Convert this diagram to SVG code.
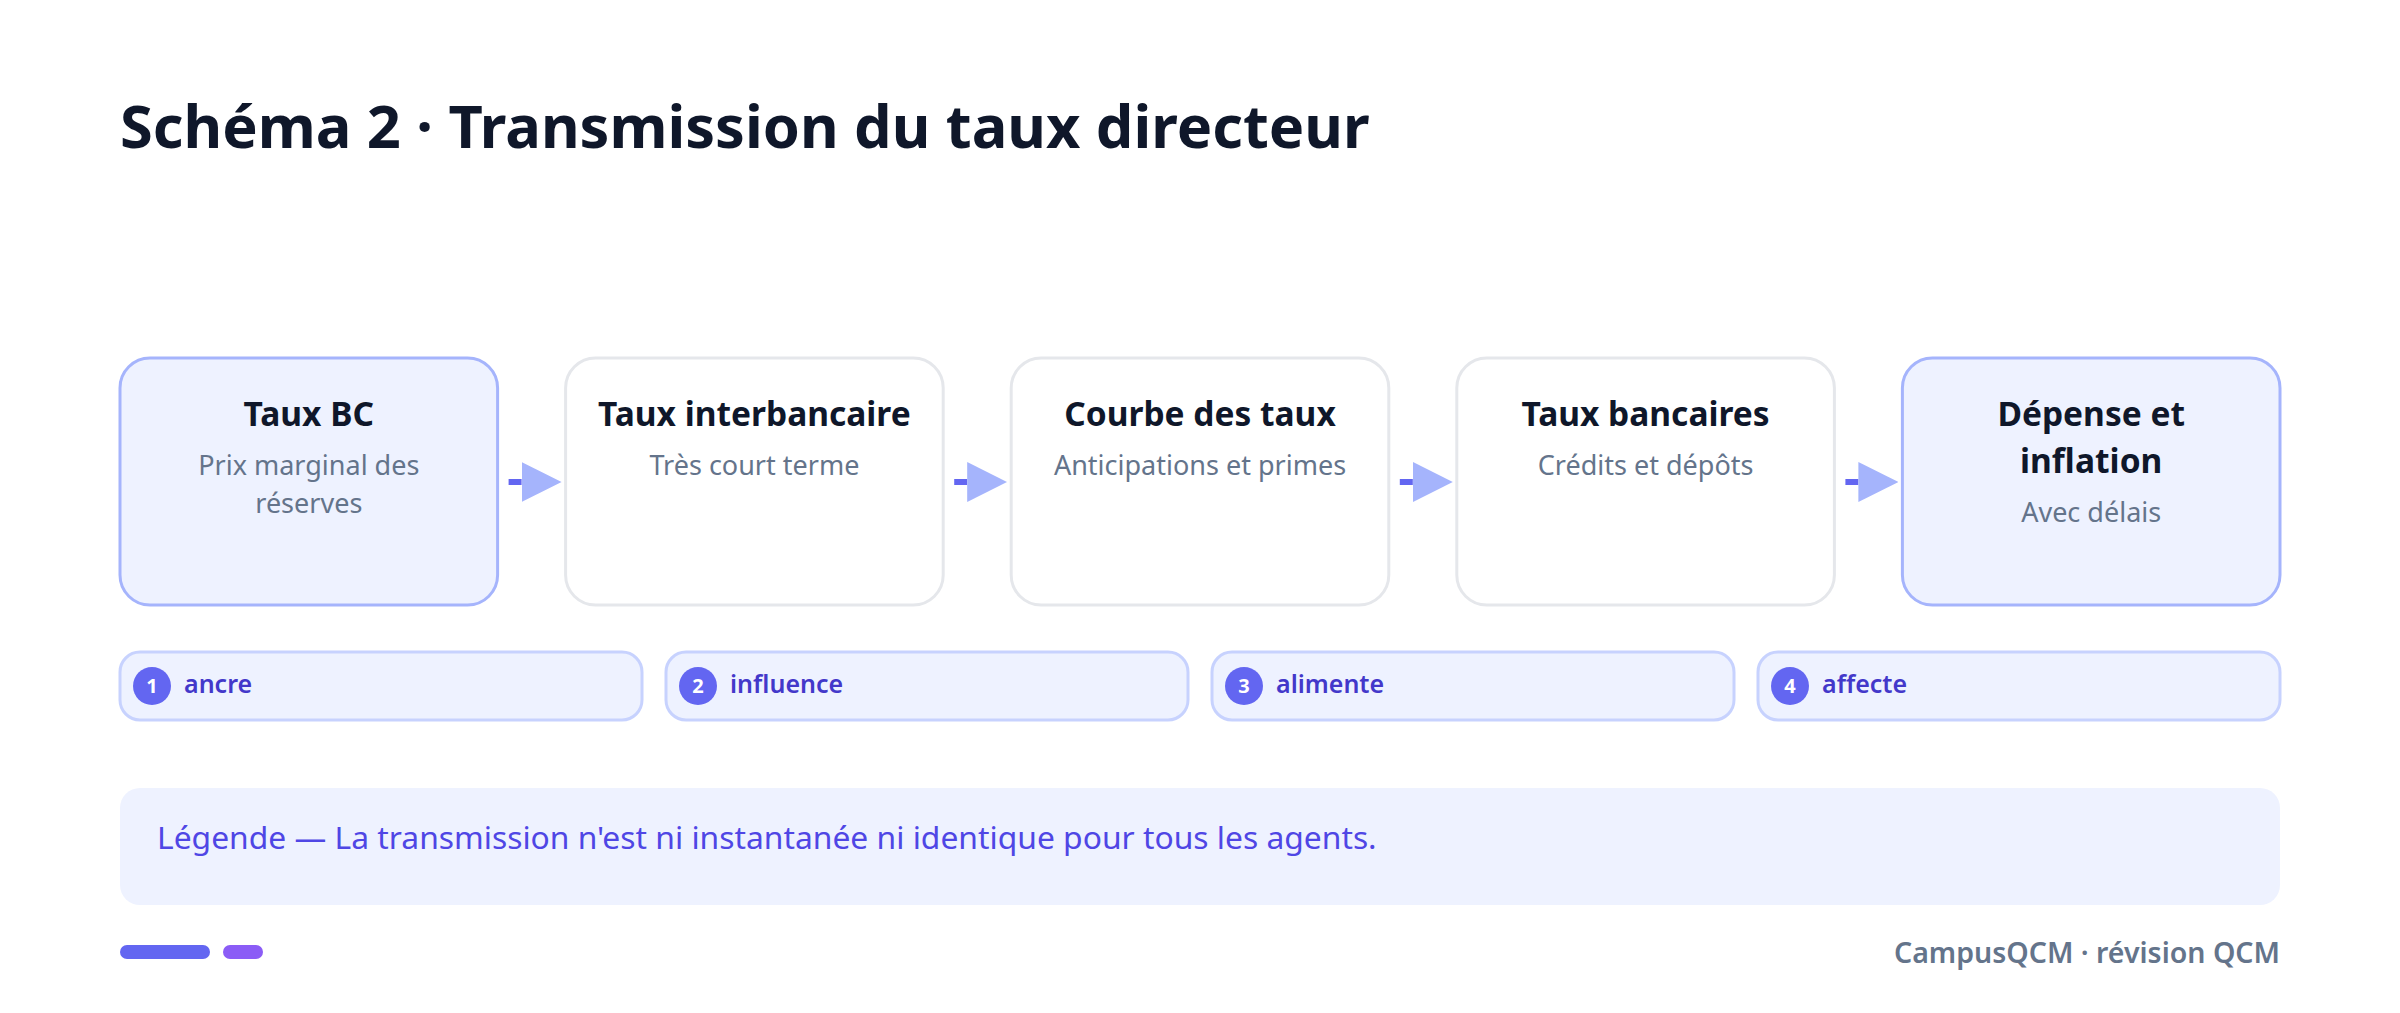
<svg xmlns="http://www.w3.org/2000/svg" width="2400" height="1013" viewBox="0 0 2400 1013">
<defs>
<style>
.title{font-family:"Noto Sans","Open Sans",sans-serif;font-weight:700;font-size:59.5px;fill:#0f172a}
.nbox{fill:#ffffff;stroke:#e5e7eb;stroke-width:3}
.nbox.hl{fill:#eef2ff;stroke:#a5b4fc}
.nt{font-family:"Noto Sans","Open Sans",sans-serif;font-weight:700;font-size:33.5px;fill:#0f172a;text-anchor:middle}
.ns{font-family:"Noto Sans","Open Sans",sans-serif;font-size:27px;fill:#64748b;text-anchor:middle}
.pill{fill:#eef2ff;stroke:#c7d2fe;stroke-width:3}
.badge{fill:#6366f1}
.bn{font-family:"Noto Sans","Open Sans",sans-serif;font-weight:700;font-size:20px;fill:#ffffff;text-anchor:middle}
.pl{font-family:"Noto Sans","Open Sans",sans-serif;font-weight:600;font-size:25px;fill:#4338ca}
.conn{stroke:#6366f1;stroke-width:6;fill:none}
.legend{fill:#eef2ff}
.lt{font-family:"Noto Sans","Open Sans",sans-serif;font-size:31.8px;fill:#4f46e5}
.foot{font-family:"Noto Sans","Open Sans",sans-serif;font-weight:600;font-size:28.5px;fill:#64748b;text-anchor:end}
</style>
<marker id="arr" viewBox="0 0 40 40" refX="0" refY="20" markerWidth="40" markerHeight="40" markerUnits="userSpaceOnUse" orient="auto">
<path d="M0,0 L40,20 L0,40 Z" fill="#a5b4fc"/>
</marker>
</defs>
<rect width="2400" height="1013" fill="#ffffff"/>
<text class="title" x="120" y="148">Schéma 2 · Transmission du taux directeur</text>

<g id="node-1">
<rect class="nbox hl" x="120" y="358" width="377.6" height="247" rx="30"/>
<text class="nt" x="308.8" y="426">Taux BC</text>
<text class="ns" x="308.8" y="475">Prix marginal des</text>
<text class="ns" x="308.8" y="513">réserves</text>
</g>
<g id="node-2">
<rect class="nbox" x="565.6" y="358" width="377.6" height="247" rx="30"/>
<text class="nt" x="754.4" y="426">Taux interbancaire</text>
<text class="ns" x="754.4" y="475">Très court terme</text>
</g>
<g id="node-3">
<rect class="nbox" x="1011.2" y="358" width="377.6" height="247" rx="30"/>
<text class="nt" x="1200" y="426">Courbe des taux</text>
<text class="ns" x="1200" y="475">Anticipations et primes</text>
</g>
<g id="node-4">
<rect class="nbox" x="1456.8" y="358" width="377.6" height="247" rx="30"/>
<text class="nt" x="1645.6" y="426">Taux bancaires</text>
<text class="ns" x="1645.6" y="475">Crédits et dépôts</text>
</g>
<g id="node-5">
<rect class="nbox hl" x="1902.4" y="358" width="377.6" height="247" rx="30"/>
<text class="nt" x="2091.2" y="426">Dépense et</text>
<text class="nt" x="2091.2" y="473">inflation</text>
<text class="ns" x="2091.2" y="522">Avec délais</text>
</g>

<g id="connectors">
<line class="conn" x1="508.6" y1="482" x2="521.6" y2="482" marker-end="url(#arr)"/>
<line class="conn" x1="954.2" y1="482" x2="967.2" y2="482" marker-end="url(#arr)"/>
<line class="conn" x1="1399.8" y1="482" x2="1412.8" y2="482" marker-end="url(#arr)"/>
<line class="conn" x1="1845.4" y1="482" x2="1858.4" y2="482" marker-end="url(#arr)"/>
</g>

<g id="step-1">
<rect class="pill" x="120" y="652" width="522" height="68" rx="20"/>
<circle class="badge" cx="152" cy="686" r="19"/>
<text class="bn" x="152" y="693">1</text>
<text class="pl" x="184" y="693">ancre</text>
</g>
<g id="step-2">
<rect class="pill" x="666" y="652" width="522" height="68" rx="20"/>
<circle class="badge" cx="698" cy="686" r="19"/>
<text class="bn" x="698" y="693">2</text>
<text class="pl" x="730" y="693">influence</text>
</g>
<g id="step-3">
<rect class="pill" x="1212" y="652" width="522" height="68" rx="20"/>
<circle class="badge" cx="1244" cy="686" r="19"/>
<text class="bn" x="1244" y="693">3</text>
<text class="pl" x="1276" y="693">alimente</text>
</g>
<g id="step-4">
<rect class="pill" x="1758" y="652" width="522" height="68" rx="20"/>
<circle class="badge" cx="1790" cy="686" r="19"/>
<text class="bn" x="1790" y="693">4</text>
<text class="pl" x="1822" y="693">affecte</text>
</g>

<g id="legend">
<rect class="legend" x="120" y="788" width="2160" height="117" rx="20"/>
<text class="lt" x="157" y="849">Légende — La transmission n'est ni instantanée ni identique pour tous les agents.</text>
</g>

<g id="footer">
<rect x="120" y="945" width="90" height="14" rx="7" fill="#6366f1"/>
<rect x="223" y="945" width="40" height="14" rx="7" fill="#8b5cf6"/>
<text class="foot" x="2280" y="963">CampusQCM · révision QCM</text>
</g>
</svg>
